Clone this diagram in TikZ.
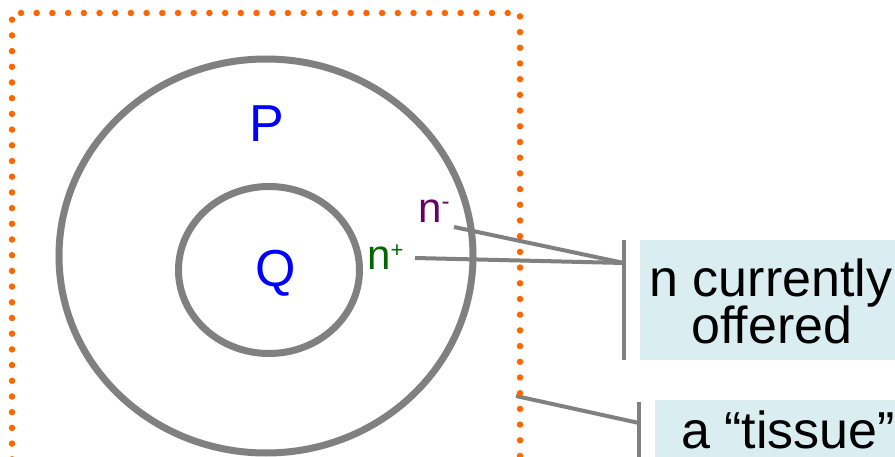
\documentclass[tikz,border=0pt]{standalone}
\usepackage{fontspec}
\setmainfont{Liberation Sans}
\definecolor{ringgray}{HTML}{808080}
\definecolor{dotorange}{HTML}{FF6600}
\definecolor{labelblue}{HTML}{0000FF}
\definecolor{minuspurple}{HTML}{660066}
\definecolor{plusgreen}{HTML}{006600}
\definecolor{calloutblue}{HTML}{DAEDF0}
\newcommand{\supmark}[3]{\raisebox{#2pt}{\fontsize{#1}{#1}\selectfont #3}}
\begin{document}
\begin{tikzpicture}[x=1pt,y=-1pt,
  ring/.style={draw=ringgray, line width=7pt},
  lead/.style={draw=ringgray, line width=4pt},
  bracket/.style={draw=ringgray, line width=4.5pt},
  callout/.style={fill=calloutblue, draw=none, inner sep=0pt},
  bigtxt/.style={inner sep=0pt, anchor=base, font=\fontsize{52}{60}\selectfont},
  ntxt/.style={inner sep=0pt, anchor=base west, font=\fontsize{42}{50}\selectfont},
  tissue/.style={draw=dotorange, line width=6.5pt, line cap=round,
                 dash pattern=on 0pt off 15.7pt}]
\useasboundingbox (0,0) rectangle (895,457);

% outer and inner regions
\draw[ring] (266,256) ellipse [x radius=207, y radius=197];
\draw[ring] (269,270) ellipse [x radius=90.5, y radius=83.5];

% region labels
\node[bigtxt, text=labelblue] (P) at (267,142) {P};
\node[bigtxt, text=labelblue] (Q) at (276,287) {Q};

% boundary labels
\node[ntxt, text=minuspurple] (nminus) at (418,223) {n\supmark{24}{13}{-}};
\node[ntxt, text=plusgreen] (nplus) at (367,270) {n\supmark{22}{13}{+}};

% callout boxes
\node[callout, minimum width=264pt, minimum height=120pt] (box1) at (772,300) {};
\node[callout, minimum width=266pt, minimum height=80pt] (box2) at (788,440) {};
\node[bigtxt] (t1) at (771,297) {n currently};
\node[bigtxt] (t2) at (772,344) {offered};
\node[bigtxt] (t3) at (788,448) {a “tissue”};

% callout brackets
\coordinate (b1top) at (624,240);
\coordinate (b1bot) at (624,360);
\coordinate (b1mid) at (624,263);
\coordinate (b2top) at (639,402);
\coordinate (b2bot) at (639,470);
\coordinate (b2mid) at (639,423);
\draw[bracket] (b1top) -- (b1bot);
\draw[bracket] (b2top) -- (b2bot);

% leader lines
\coordinate (nminusend) at (454,227);
\coordinate (nplusend) at (415,258);
\coordinate (tissueend) at (516,396);
\draw[lead] (nminusend) -- (b1mid);
\draw[lead] (nplusend) -- (b1mid);
\draw[lead] (tissueend) -- (b2mid);

% dotted tissue boundary
\draw[tissue] (12,475) -- (12,13) -- (520,13) -- (520,475);
\end{tikzpicture}
\end{document}
